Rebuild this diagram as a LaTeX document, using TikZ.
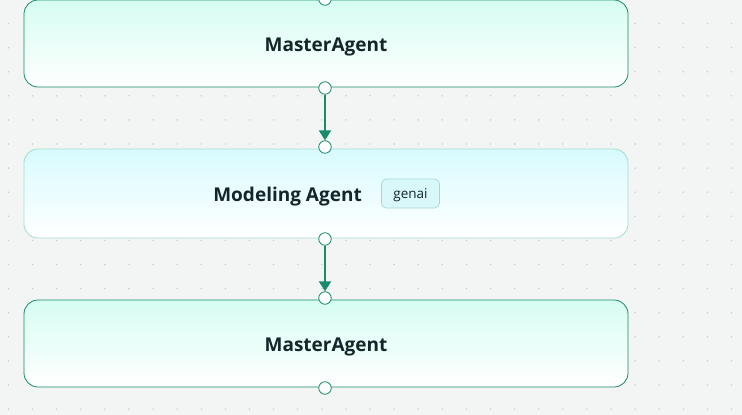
\documentclass[tikz,border=0pt]{standalone}
\usepackage{fontspec}
\setmainfont{Open Sans}
\usetikzlibrary{arrows.meta}
\definecolor{bg}{HTML}{F3F5F4}
\definecolor{dotc}{HTML}{CDD3D0}
\definecolor{grn}{HTML}{1A8A6C}
\definecolor{mint}{HTML}{D6FDF2}
\definecolor{cyanl}{HTML}{D8FBFE}
\definecolor{tealb}{HTML}{A6DCD6}
\definecolor{txt}{HTML}{14262A}
\definecolor{tagb}{HTML}{A9D6D4}
\definecolor{tagf}{HTML}{D9F8FA}
\tikzset{
  master/.style={draw=grn, line width=0.8pt, rounded corners=14pt, top color=mint, bottom color=white,
    minimum width=604pt, minimum height=87pt, inner sep=0pt},
  modeling/.style={draw=tealb, line width=0.8pt, rounded corners=14pt, top color=cyanl, bottom color=white,
    minimum width=604pt, minimum height=89pt, inner sep=0pt},
  title/.style={font=\fontsize{19}{22}\selectfont\bfseries, text=txt, inner sep=0pt, anchor=base},
  port/.style={circle, draw=grn, line width=0.8pt, fill=white, minimum size=12.5pt, inner sep=0pt},
  conn/.style={draw=grn, line width=2pt, -{Triangle[width=12pt,length=10pt]}},
  tag/.style={draw=tagb, line width=0.7pt, rounded corners=5pt, fill=tagf, minimum width=58pt, minimum height=29pt,
    inner sep=0pt},
  tagtext/.style={font=\fontsize{13.5}{15}\selectfont, text=txt, inner sep=0pt, anchor=base},
}
\begin{document}
\begin{tikzpicture}[x=1pt,y=-1pt]
\fill[bg] (0,0) rectangle (742,415);
\useasboundingbox (0,0) rectangle (742,415);
\foreach \i in {0,...,30}{
  \foreach \j in {0,...,17}{
    \fill[dotc] ({8.5+24.1*\i},{-0.6+24.1*\j}) circle (0.9pt);
  }
}
\node[master] (m1) at (326,43.5) {};
\node[title] (m1t) at (326,51) {MasterAgent};
\node[modeling] (mod) at (326,193.5) {};
\node[title, anchor=base east] (modt) at (362,201) {Modeling Agent};
\node[tag] (tg) at (410.5,193.5) {};
\node[tagtext] (tgt) at (410.5,198) {genai};
\node[master] (m2) at (326,343.5) {};
\node[title] (m2t) at (326,351) {MasterAgent};
\node[port] (p0) at (325,-1) {};
\node[port] (p1) at (325,88) {};
\node[port] (p2) at (325,147) {};
\node[port] (p3) at (325,239) {};
\node[port] (p4) at (325,298) {};
\node[port] (p5) at (325,388) {};
\draw[conn] (p1) -- (p2);
\draw[conn] (p3) -- (p4);
\end{tikzpicture}
\end{document}
